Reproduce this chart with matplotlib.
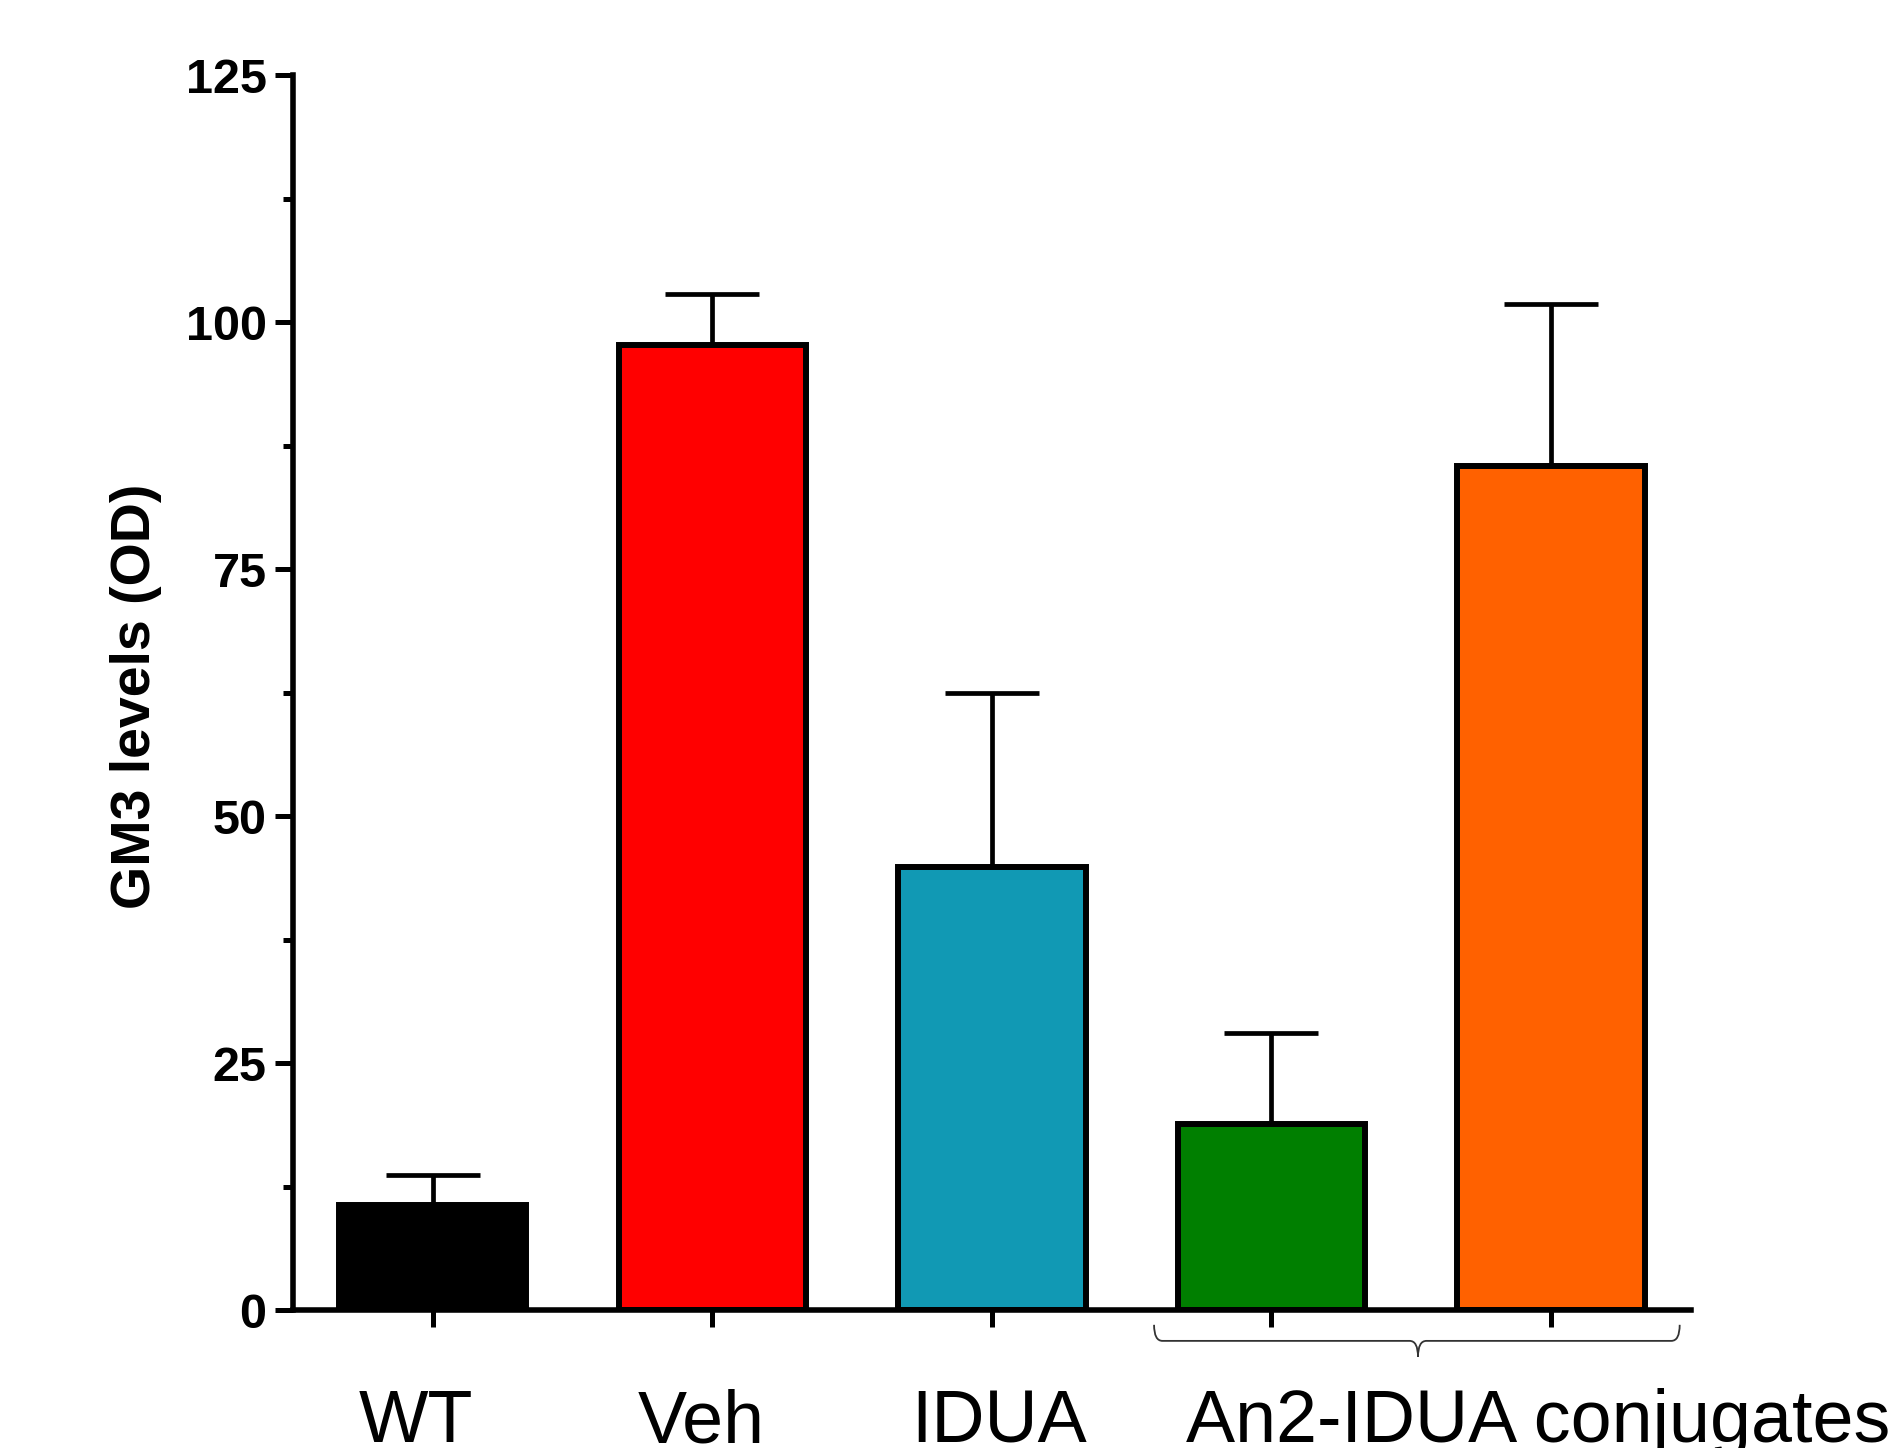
import numpy as np
import matplotlib
matplotlib.use("Agg")
import matplotlib.pyplot as plt
from matplotlib.path import Path
from matplotlib.patches import PathPatch
import matplotlib.transforms as mtransforms

plt.rcParams["font.family"] = ["Liberation Sans", "DejaVu Sans"]

# data
groups = ["WT", "Veh", "IDUA", "An2-IDUA 1", "An2-IDUA 2"]
means = [10.6, 97.7, 44.8, 18.8, 85.4]
err_up = [3.1, 5.1, 17.6, 9.2, 16.4]
colors = ["#000000", "#FF0000", "#1199B4", "#007F00", "#FF6100"]
yticks = [0, 25, 50, 75, 100, 125]
ylabel = "GM3 levels (OD)"

# group labels under the axis: (text, x in data units, alignment)
xlabels = [("WT", -0.06, "center"), ("Veh", 0.96, "center"),
           ("IDUA", 2.026, "center"), ("An2-IDUA conjugates", 2.695, "left")]

fig = plt.figure(figsize=(19.02, 14.48), dpi=100)
ax = fig.add_axes([0.154, 0.0953, 0.889 - 0.154, 0.9482 - 0.0953])

x = np.arange(len(groups))
ax.bar(x, means, width=0.67, color=colors, edgecolor="black",
       linewidth=4.3, zorder=2)
ax.errorbar(x, means, yerr=[np.zeros(len(means)), err_up], fmt="none",
            ecolor="black", elinewidth=3.4, capsize=34, capthick=3.4,
            zorder=1)

ax.set_xlim(-0.5, 4.5)
ax.set_ylim(0, 125)
ax.set_yticks(yticks)
ax.set_yticks(np.arange(12.5, 125, 25), minor=True)
ax.set_xticks(x)
ax.set_xticklabels([])

for s in ["top", "right"]:
    ax.spines[s].set_visible(False)
for s in ["left", "bottom"]:
    ax.spines[s].set_linewidth(4.0)

ax.tick_params(axis="y", which="major", length=13, width=3.6, pad=6,
               labelsize=35)
ax.tick_params(axis="y", which="minor", length=7, width=3.6)
ax.tick_params(axis="x", which="major", length=12, width=3.6)
for lab in ax.get_yticklabels():
    lab.set_fontweight("bold")

fig.text(0.0715, 0.519, ylabel, rotation=90, ha="center", va="center",
         fontsize=40, fontweight="bold")

trans = mtransforms.blended_transform_factory(ax.transData, ax.transAxes)
for txt, xp, ha in xlabels:
    ax.text(xp, -0.107, txt, transform=trans, ha=ha, va="baseline",
            fontsize=53, clip_on=False)

# brace under the two conjugate bars
xl, xc, xr = 2.58, 3.524, 4.46
y_top, y_line, y_tip = -0.012, -0.025, -0.038
d = 0.03
verts = [(xl, y_top), (xl, y_line), (xl + d, y_line),
         (xc - d, y_line), (xc, y_line), (xc, y_tip),
         (xc, y_line), (xc + d, y_line),
         (xr - d, y_line), (xr, y_line), (xr, y_top)]
codes = [Path.MOVETO, Path.CURVE3, Path.CURVE3,
         Path.LINETO, Path.CURVE3, Path.CURVE3,
         Path.CURVE3, Path.CURVE3,
         Path.LINETO, Path.CURVE3, Path.CURVE3]
brace = PathPatch(Path(verts, codes), transform=trans, fill=False,
                  edgecolor="#333333", linewidth=1.3, clip_on=False)
ax.add_patch(brace)

fig.savefig("out.png", dpi=100)
